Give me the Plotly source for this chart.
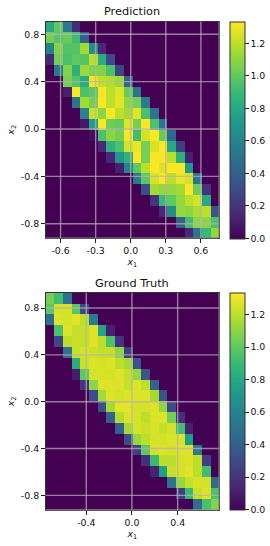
import numpy as np
import plotly.graph_objects as go

N = 20
def row(start, vals):
    r = [0.0] * N
    r[start:start + len(vals)] = vals
    return r

pred_rows = [
    row(0, [0.80, 1.00, 0.55, 0.15]),
    row(0, [1.05, 0.98, 1.02, 0.92, 0.42]),
    row(0, [0.60, 1.08, 0.97, 0.97, 1.15, 0.65, 0.15]),
    row(0, [0.15, 1.05, 0.95, 1.00, 0.98, 1.20, 0.82, 0.30]),
    row(1, [0.55, 1.08, 0.85, 1.13, 1.08, 1.08, 0.95, 0.27]),
    row(2, [1.06, 0.97, 0.82, 1.31, 1.21, 1.18, 1.13, 0.42]),
    row(2, [0.12, 1.33, 0.95, 1.00, 1.32, 1.20, 1.27, 1.02, 0.50]),
    row(3, [0.50, 1.15, 1.05, 1.33, 1.20, 1.28, 1.10, 1.05, 0.55]),
    row(4, [0.60, 1.23, 1.10, 1.33, 1.20, 1.15, 1.28, 0.95, 0.50]),
    row(4, [0.08, 0.75, 1.33, 1.03, 1.02, 1.28, 1.05, 1.33, 0.95, 0.50]),
    row(5, [0.05, 0.95, 1.10, 1.05, 1.32, 0.92, 1.25, 1.33, 1.02, 0.45]),
    row(6, [0.15, 0.85, 0.95, 1.25, 1.30, 1.05, 1.25, 1.33, 0.80, 0.25]),
    row(7, [0.15, 0.70, 0.85, 1.33, 1.05, 1.32, 1.32, 1.20, 0.85, 0.12]),
    row(8, [0.12, 0.60, 1.00, 1.20, 1.33, 1.27, 1.33, 1.33, 0.72]),
    row(10, [0.55, 1.00, 1.25, 1.33, 1.20, 1.30, 1.25, 0.50]),
    row(11, [0.32, 1.15, 1.12, 1.12, 1.15, 1.33, 1.03, 0.20]),
    row(12, [0.20, 0.90, 1.00, 1.12, 1.20, 1.25, 0.80]),
    row(13, [0.15, 0.65, 1.12, 1.10, 1.17, 1.20, 0.35]),
    row(15, [0.42, 0.92, 1.10, 1.10, 0.95]),
    row(16, [0.15, 0.50, 0.90, 1.12]),
]
truth_rows = [
    row(0, [1.05, 0.92, 0.50, 0.02]),
    row(0, [1.00, 1.25, 1.25, 0.98, 0.30]),
    row(0, [0.48, 1.27, 1.25, 1.28, 1.20, 0.55]),
    row(1, [0.95, 1.27, 1.22, 1.22, 1.27, 0.78, 0.12]),
    row(1, [0.28, 1.20, 1.23, 1.22, 1.27, 1.20, 0.95, 0.20]),
    row(2, [0.50, 1.22, 1.25, 1.23, 1.22, 1.22, 1.10, 0.25]),
    row(3, [0.82, 1.23, 1.27, 1.25, 1.27, 1.20, 1.15, 0.35]),
    row(3, [0.10, 1.00, 1.25, 1.25, 1.25, 1.27, 1.22, 1.12, 0.35]),
    row(4, [0.20, 1.10, 1.27, 1.27, 1.27, 1.22, 1.27, 1.20, 0.40]),
    row(5, [0.30, 1.15, 1.27, 1.25, 1.27, 1.27, 1.27, 1.15, 0.35]),
    row(6, [0.33, 1.15, 1.28, 1.28, 1.25, 1.25, 1.27, 1.10, 0.30]),
    row(7, [0.40, 1.18, 1.27, 1.25, 1.20, 1.27, 1.27, 1.05, 0.18]),
    row(8, [0.40, 1.15, 1.25, 1.23, 1.25, 1.22, 1.25, 0.92, 0.12]),
    row(9, [0.32, 1.12, 1.20, 1.25, 1.25, 1.27, 1.25, 0.75]),
    row(10, [0.25, 1.00, 1.25, 1.27, 1.25, 1.27, 1.27, 0.55]),
    row(11, [0.18, 0.90, 1.20, 1.20, 1.25, 1.27, 1.20, 0.25]),
    row(12, [0.12, 0.75, 1.22, 1.25, 1.28, 1.20, 0.92]),
    row(14, [0.50, 1.12, 1.22, 1.25, 1.25, 0.45]),
    row(15, [0.25, 0.90, 1.22, 1.27, 0.95]),
    row(17, [0.48, 0.95, 1.08]),
]

pred_xrange = [-0.729, 0.755]
pred_yrange = [-0.92, 0.908]
truth_xrange = [-0.757, 0.762]
truth_yrange = [-0.925, 0.931]
pred_xticks = [-0.6, -0.3, 0.0, 0.3, 0.6]
truth_xticks = [-0.4, 0.0, 0.4]
y_ticks = [-0.8, -0.4, 0.0, 0.4, 0.8]
cbar_ticks = [0.0, 0.2, 0.4, 0.6, 0.8, 1.0, 1.2]
z_max = 1.335

W, H = 270, 546
FONT = "DejaVu Sans"
TICKSIZE = 9.4
GRID = "rgba(186,176,186,0.72)"
EDGE = "#808080"
panels = [
    dict(z=pred_rows, xr=pred_xrange, yr=pred_yrange, xt=pred_xticks, top=21.5, bot=238.0, title="Prediction", xa="x", ya="y"),
    dict(z=truth_rows, xr=truth_xrange, yr=truth_yrange, xt=truth_xticks, top=292.7, bot=510.0, title="Ground Truth", xa="x2", ya="y2"),
]
LEFT, RIGHT = 45.5, 219.0
fig = go.Figure()
annots, shapes = [], []
for i, p in enumerate(panels):
    xs = np.linspace(p["xr"][0], p["xr"][1], N + 1)
    ys = np.linspace(p["yr"][1], p["yr"][0], N + 1)
    xc = (xs[:-1] + xs[1:]) / 2
    yc = (ys[:-1] + ys[1:]) / 2
    fig.add_trace(go.Heatmap(
        z=p["z"], x=xc, y=yc, xaxis=p["xa"], yaxis=p["ya"], colorscale="Viridis",
        zmin=0, zmax=z_max, hoverinfo="skip",
        colorbar=dict(
            x=229.5 / W, xanchor="left", xpad=0, ypad=0,
            y=1 - p["top"] / H, yanchor="top",
            lenmode="fraction", len=(p["bot"] - p["top"]) / H,
            thickness=14.5, thicknessmode="pixels",
            outlinecolor="#333", outlinewidth=1,
            ticks="outside", ticklen=3.5, tickwidth=0.8, tickcolor="#222",
            tickvals=cbar_ticks, ticktext=[f"{v:.1f}" for v in cbar_ticks],
            tickfont=dict(family=FONT, size=TICKSIZE, color="#111"),
        ),
    ))
    suffix = "" if i == 0 else "2"
    axis_common = dict(
        showgrid=False, zeroline=False, showline=True, mirror=True,
        linecolor="#333", linewidth=1, ticks="outside", ticklen=3.5,
        tickwidth=0.8, tickcolor="#222",
        tickfont=dict(family=FONT, size=TICKSIZE, color="#111"),
    )
    fig.layout["xaxis" + suffix] = dict(
        domain=[LEFT / W, RIGHT / W], range=p["xr"], anchor="y" + suffix,
        tickvals=p["xt"], ticktext=[f"{v:.1f}" for v in p["xt"]],
        title=dict(text="<i>x</i><sub>1</sub>", font=dict(family=FONT, size=TICKSIZE, color="#111"), standoff=2),
        **axis_common,
    )
    fig.layout["yaxis" + suffix] = dict(
        domain=[1 - p["bot"] / H, 1 - p["top"] / H], range=p["yr"], anchor="x" + suffix,
        tickvals=y_ticks, ticktext=[f"{v:.1f}" for v in y_ticks],
        title=dict(text="<i>x</i><sub>2</sub>", font=dict(family=FONT, size=TICKSIZE, color="#111"), standoff=4),
        **axis_common,
    )
    annots.append(dict(
        text=p["title"], xref=p["xa"] + " domain", yref=p["ya"] + " domain", x=0.5, y=1,
        xanchor="center", yanchor="bottom", yshift=1, showarrow=False,
        font=dict(family=FONT, size=11.3, color="#111"),
    ))
    for t in p["xt"]:
        shapes.append(dict(type="line", xref=p["xa"], yref=p["ya"] + " domain", x0=t, x1=t, y0=0, y1=1,
                           line=dict(color=GRID, width=1.4), layer="above"))
    for t in y_ticks:
        shapes.append(dict(type="line", xref=p["xa"] + " domain", yref=p["ya"], x0=0, x1=1, y0=t, y1=t,
                           line=dict(color=GRID, width=1.4), layer="above"))
    shapes.append(dict(type="line", xref=p["xa"] + " domain", yref=p["ya"] + " domain", x0=1, x1=1, y0=0, y1=1,
                       line=dict(color=EDGE, width=1.2), layer="above"))
    shapes.append(dict(type="line", xref=p["xa"] + " domain", yref=p["ya"] + " domain", x0=0, x1=1, y0=0, y1=0,
                       line=dict(color=EDGE, width=1.2), layer="above"))

fig.update_layout(
    width=W, height=H, autosize=False, margin=dict(l=0, r=0, t=0, b=0),
    paper_bgcolor="white", plot_bgcolor="white", annotations=annots, shapes=shapes,
)
fig.write_html("out.html", config=dict(displayModeBar=False),
               post_script="document.body.style.margin='0';")
